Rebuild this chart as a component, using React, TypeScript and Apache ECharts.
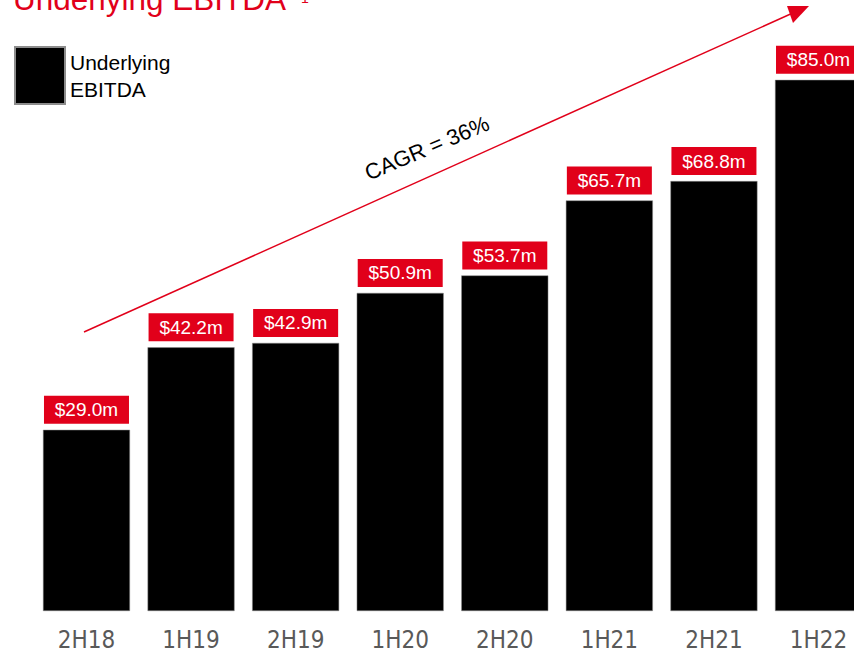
import React, { useEffect, useRef } from "react";
import * as echarts from "echarts";

const categories = ["2H18", "1H19", "2H19", "1H20", "2H20", "1H21", "2H21", "1H22"];
const ebitda = [29.0, 42.2, 42.9, 50.9, 53.7, 65.7, 68.8, 85.0];
const seriesName = "Underlying EBITDA";
const cagrText = "CAGR = 36%";
const titleText = "Underlying EBITDA";

const RED = "#E1001A";

export default function App() {
  const ref = useRef<HTMLDivElement>(null);
  useEffect(() => {
    if (!ref.current) return;
    const chart = echarts.init(ref.current, undefined, { renderer: "svg" });
    chart.setOption({
      animation: false,
      grid: { left: 34.2, width: 836.6, top: 48.6, bottom: 39, containLabel: false },
      legend: {
        show: true,
        left: 14,
        top: 46,
        padding: 0,
        orient: "vertical",
        icon: "rect",
        itemWidth: 50,
        itemHeight: 57,
        itemGap: 5,
        formatter: () => "Underlying\nEBITDA",
        textStyle: { fontFamily: "Liberation Sans, Arial, sans-serif", fontSize: 21, lineHeight: 27, color: "#000" },
        data: [seriesName],
      },
      xAxis: {
        type: "category",
        data: categories,
        axisLine: { show: false },
        axisTick: { show: false },
        axisLabel: {
          margin: 16,
          color: "#595959",
          fontSize: 24,
          lineHeight: 26,
          fontFamily: "DejaVu Sans Condensed, Liberation Sans, sans-serif",
        },
      },
      yAxis: { type: "value", min: 0, max: 90, show: false, splitLine: { show: false } },
      series: [
        {
          name: seriesName,
          type: "bar",
          data: ebitda,
          barWidth: 87,
          itemStyle: { color: "#000", borderColor: "#8c8c8c", borderWidth: 0.5 },
          label: {
            show: true,
            position: "top",
            distance: 6,
            formatter: (p: any) => "$" + p.value.toFixed(1) + "m",
            color: "#fff",
            fontSize: 19,
            lineHeight: 20,
            fontFamily: "Liberation Sans, Arial, sans-serif",
            backgroundColor: RED,
            width: 85,
            align: "center",
            padding: [4, 0, 4, 0],
          },
        },
      ],
      graphic: [
        {
          type: "text",
          x: 13,
          y: -17,
          style: {
            text: titleText,
            fill: RED,
            fontSize: 31.5,
            fontFamily: "Liberation Sans, Arial, sans-serif",
          },
        },
        {
          type: "text",
          x: 301,
          y: -9,
          style: {
            text: "1",
            fill: RED,
            fontSize: 14,
            fontFamily: "Liberation Sans, Arial, sans-serif",
          },
        },
        {
          type: "line",
          shape: { x1: 84, y1: 332, x2: 795, y2: 12 },
          style: { stroke: RED, lineWidth: 1.5 },
        },
        {
          type: "polygon",
          shape: { points: [[809, 6], [787, 6], [793, 23]] },
          style: { fill: RED },
        },
        {
          type: "text",
          x: 427,
          y: 148,
          rotation: 0.4,
          style: {
            text: cagrText,
            fill: "#000",
            fontSize: 22,
            fontFamily: "Liberation Sans, Arial, sans-serif",
            align: "center",
            verticalAlign: "middle",
          },
        },
      ],
    });
    return () => chart.dispose();
  }, []);
  return (
    <div
      ref={ref}
      style={{ position: "fixed", left: 0, top: 0, width: 900, height: 653, background: "#fff" }}
    />
  );
}
